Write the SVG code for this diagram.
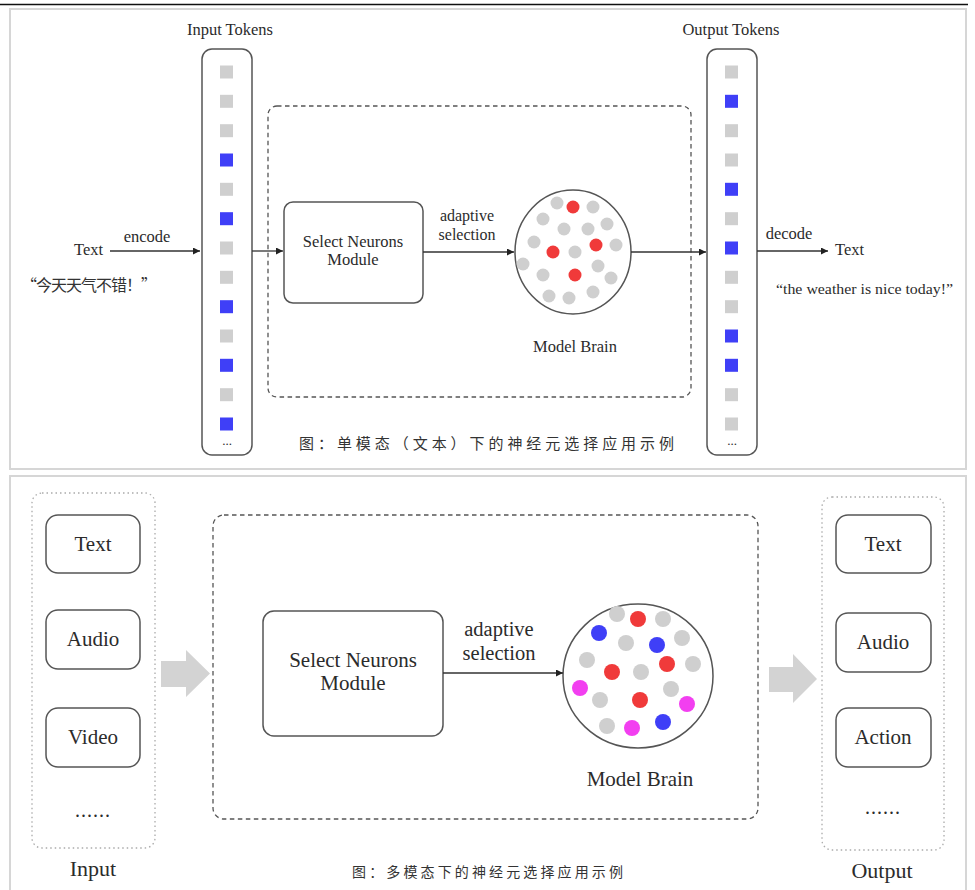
<svg xmlns="http://www.w3.org/2000/svg" width="975" height="890" viewBox="0 0 975 890">
<defs>
<style>
.frame{fill:#fff;stroke:#d6d6d6;stroke-width:2}
.col{fill:#fff;stroke:#555;stroke-width:1.5}
.box{fill:#fff;stroke:#555;stroke-width:1.5}
.dash{fill:none;stroke:#555;stroke-width:1.3;stroke-dasharray:4.5 3.5}
.dot{fill:none;stroke:#aaa;stroke-width:1.3;stroke-dasharray:1.5 3}
.brain{fill:#fff;stroke:#555;stroke-width:1.5}
.g{fill:#cfcfcf}
.b{fill:#3f3ff7}
.r{fill:#f03a3a}
.m{fill:#f23ff0}
.ser{font-family:"Liberation Serif","Times New Roman",serif;fill:#2b2b2b}
.cjk{font-family:"Noto Sans CJK SC","Noto Sans",sans-serif;fill:#333}
.conn{stroke:#333;stroke-width:1.3;fill:none}
.block{fill:#d3d3d3}
</style>
<marker id="ah" viewBox="0 0 10 10" refX="10" refY="5" markerWidth="8" markerHeight="7" markerUnits="userSpaceOnUse" orient="auto">
<path d="M0,0 L10,5 L0,10 z" fill="#222"/>
</marker>
</defs>
<rect width="975" height="890" fill="#fff"/>
<line x1="0" y1="4.5" x2="968" y2="4.5" stroke="#111" stroke-width="1.4"/>
<rect class="frame" x="10" y="9" width="956" height="460"/>
<rect class="frame" x="10" y="476" width="956" height="420"/>

<!-- ===== Top panel ===== -->
<g id="top-container">
<rect class="dash" x="268" y="106" width="423" height="291" rx="9"/>
</g>

<g id="input-tokens">
<text class="ser" x="230" y="35" font-size="16.5" text-anchor="middle">Input Tokens</text>
<rect class="col" x="202" y="49" width="50" height="406" rx="10"/>
<rect class="g" x="220" y="65.5" width="13" height="13"/>
<rect class="g" x="220" y="94.8" width="13" height="13"/>
<rect class="g" x="220" y="124.2" width="13" height="13"/>
<rect class="b" x="220" y="153.5" width="13" height="13"/>
<rect class="g" x="220" y="182.8" width="13" height="13"/>
<rect class="b" x="220" y="212.2" width="13" height="13"/>
<rect class="g" x="220" y="241.5" width="13" height="13"/>
<rect class="g" x="220" y="270.8" width="13" height="13"/>
<rect class="b" x="220" y="300.2" width="13" height="13"/>
<rect class="g" x="220" y="329.5" width="13" height="13"/>
<rect class="b" x="220" y="358.8" width="13" height="13"/>
<rect class="g" x="220" y="388.2" width="13" height="13"/>
<rect class="b" x="220" y="417.5" width="13" height="13"/>
<text class="ser" x="227" y="445" font-size="13" text-anchor="middle" fill="#555">...</text>
</g>

<g id="text-in">
<text class="ser" x="74" y="255" font-size="16.5">Text</text>
<text class="cjk" x="21" y="291" font-size="16" textLength="136" lengthAdjust="spacing" fill="#444">“今天天气不错！”</text>
</g>

<g id="select-top">
<rect class="box" x="284" y="202" width="139" height="101" rx="9"/>
<text class="ser" x="353" y="247" font-size="16.5" text-anchor="middle">Select Neurons</text>
<text class="ser" x="353" y="265" font-size="16.5" text-anchor="middle">Module</text>
</g>

<g id="brain-top">
<ellipse class="brain" cx="573" cy="252" rx="58" ry="62"/>
<circle class="g" cx="557" cy="203" r="6.5"/>
<circle class="r" cx="573" cy="207" r="6.5"/>
<circle class="g" cx="593" cy="207" r="6.5"/>
<circle class="g" cx="543" cy="219" r="6.5"/>
<circle class="g" cx="564" cy="229" r="6.5"/>
<circle class="g" cx="588" cy="229" r="6.5"/>
<circle class="g" cx="607" cy="224" r="6.5"/>
<circle class="g" cx="534" cy="242" r="6.5"/>
<circle class="r" cx="553" cy="252" r="6.5"/>
<circle class="g" cx="575" cy="252" r="6.5"/>
<circle class="r" cx="596" cy="245" r="6.5"/>
<circle class="g" cx="616" cy="245" r="6.5"/>
<circle class="g" cx="523" cy="264" r="6.5"/>
<circle class="g" cx="543" cy="275" r="6.5"/>
<circle class="r" cx="575" cy="275" r="6.5"/>
<circle class="g" cx="598" cy="266" r="6.5"/>
<circle class="g" cx="611" cy="278" r="6.5"/>
<circle class="g" cx="549" cy="296" r="6.5"/>
<circle class="g" cx="569" cy="298" r="6.5"/>
<circle class="g" cx="593" cy="292" r="6.5"/>
<text class="ser" x="575" y="352" font-size="16.5" text-anchor="middle">Model Brain</text>
</g>

<g id="output-tokens">
<text class="ser" x="731" y="35" font-size="16.5" text-anchor="middle">Output Tokens</text>
<rect class="col" x="707" y="49" width="50" height="406" rx="10"/>
<rect class="g" x="725" y="65.5" width="13" height="13"/>
<rect class="b" x="725" y="94.8" width="13" height="13"/>
<rect class="g" x="725" y="124.2" width="13" height="13"/>
<rect class="g" x="725" y="153.5" width="13" height="13"/>
<rect class="b" x="725" y="182.8" width="13" height="13"/>
<rect class="g" x="725" y="212.2" width="13" height="13"/>
<rect class="b" x="725" y="241.5" width="13" height="13"/>
<rect class="g" x="725" y="270.8" width="13" height="13"/>
<rect class="g" x="725" y="300.2" width="13" height="13"/>
<rect class="b" x="725" y="329.5" width="13" height="13"/>
<rect class="b" x="725" y="358.8" width="13" height="13"/>
<rect class="g" x="725" y="388.2" width="13" height="13"/>
<rect class="g" x="725" y="417.5" width="13" height="13"/>
<text class="ser" x="732" y="445" font-size="13" text-anchor="middle" fill="#555">...</text>
</g>

<g id="text-out">
<text class="ser" x="835" y="255" font-size="16.5">Text</text>
<text class="ser" x="776" y="294" font-size="15.5" textLength="177" lengthAdjust="spacingAndGlyphs">“the weather is nice today!”</text>
</g>

<g id="caption-top">
<text class="cjk" x="299" y="448.5" font-size="15" textLength="375" lengthAdjust="spacing">图：单模态（文本）下的神经元选择应用示例</text>
</g>

<!-- ===== Bottom panel ===== -->
<g id="input-group">
<rect class="dot" x="32" y="493" width="123" height="355" rx="10"/>
<rect class="box" x="46" y="515" width="94" height="58" rx="12"/>
<text class="ser" x="93" y="551" font-size="21" text-anchor="middle">Text</text>
<rect class="box" x="46" y="610" width="94" height="59" rx="12"/>
<text class="ser" x="93" y="646" font-size="21" text-anchor="middle">Audio</text>
<rect class="box" x="46" y="708" width="94" height="59" rx="12"/>
<text class="ser" x="93" y="744" font-size="21" text-anchor="middle">Video</text>
<text class="ser" x="93" y="817" font-size="20" text-anchor="middle" letter-spacing="1">......</text>
<text class="ser" x="93" y="876" font-size="22" text-anchor="middle">Input</text>
</g>

<g id="bottom-container">
<rect class="dash" x="213" y="515" width="545" height="304" rx="11"/>
</g>

<g id="select-bottom">
<rect class="box" x="263" y="611" width="180" height="125" rx="11"/>
<text class="ser" x="353" y="667" font-size="21" text-anchor="middle">Select Neurons</text>
<text class="ser" x="353" y="690" font-size="21" text-anchor="middle">Module</text>
</g>

<g id="brain-bottom">
<ellipse class="brain" cx="638" cy="676" rx="75" ry="72"/>
<circle class="g" cx="617" cy="614" r="8"/>
<circle class="r" cx="638" cy="619" r="8"/>
<circle class="g" cx="663" cy="619" r="8"/>
<circle class="b" cx="599" cy="633" r="8"/>
<circle class="g" cx="626" cy="643" r="8"/>
<circle class="b" cx="657" cy="645" r="8"/>
<circle class="g" cx="682" cy="638" r="8"/>
<circle class="g" cx="587" cy="660" r="8"/>
<circle class="r" cx="667" cy="664" r="8"/>
<circle class="g" cx="693" cy="664" r="8"/>
<circle class="r" cx="612" cy="672" r="8"/>
<circle class="g" cx="641" cy="672" r="8"/>
<circle class="m" cx="580" cy="688" r="8"/>
<circle class="g" cx="671" cy="689" r="8"/>
<circle class="g" cx="600" cy="700" r="8"/>
<circle class="r" cx="640" cy="700" r="8"/>
<circle class="m" cx="687" cy="704" r="8"/>
<circle class="g" cx="607" cy="726" r="8"/>
<circle class="m" cx="632" cy="728" r="8"/>
<circle class="b" cx="663" cy="722" r="8"/>
<text class="ser" x="640" y="786" font-size="21" text-anchor="middle">Model Brain</text>
</g>

<g id="output-group">
<rect class="dot" x="822" y="497" width="122" height="353" rx="10"/>
<rect class="box" x="836" y="515" width="95" height="58" rx="12"/>
<text class="ser" x="883" y="551" font-size="21" text-anchor="middle">Text</text>
<rect class="box" x="836" y="613" width="95" height="59" rx="12"/>
<text class="ser" x="883" y="649" font-size="21" text-anchor="middle">Audio</text>
<rect class="box" x="836" y="708" width="95" height="59" rx="12"/>
<text class="ser" x="883" y="744" font-size="21" text-anchor="middle">Action</text>
<text class="ser" x="883" y="814" font-size="20" text-anchor="middle" letter-spacing="1">......</text>
<text class="ser" x="882" y="878" font-size="22" text-anchor="middle">Output</text>
</g>

<g id="caption-bottom">
<text class="cjk" x="352" y="877" font-size="14" textLength="271" lengthAdjust="spacing">图：多模态下的神经元选择应用示例</text>
</g>

<!-- ===== Connectors ===== -->
<g id="connectors">
<line class="conn" x1="110" y1="251" x2="200" y2="251" marker-end="url(#ah)"/>
<text class="ser" x="147" y="242" font-size="16.5" text-anchor="middle">encode</text>
<line class="conn" x1="252" y1="251" x2="283" y2="251" marker-end="url(#ah)"/>
<line class="conn" x1="423" y1="252" x2="514" y2="252" marker-end="url(#ah)"/>
<text class="ser" x="467" y="221" font-size="16" text-anchor="middle">adaptive</text>
<text class="ser" x="467" y="240" font-size="16" text-anchor="middle">selection</text>
<line class="conn" x1="631" y1="252" x2="706" y2="252" marker-end="url(#ah)"/>
<line class="conn" x1="757" y1="251" x2="828" y2="251" marker-end="url(#ah)"/>
<text class="ser" x="789" y="239" font-size="16.5" text-anchor="middle">decode</text>
<polygon class="block" points="161,661 186,661 186,650 210,673.5 186,697 186,687 161,687"/>
<line class="conn" x1="443" y1="673" x2="563" y2="673" marker-end="url(#ah)"/>
<text class="ser" x="499" y="636" font-size="20.5" text-anchor="middle">adaptive</text>
<text class="ser" x="499" y="660" font-size="20.5" text-anchor="middle">selection</text>
<polygon class="block" points="769,667 793,667 793,654 817,679 793,703 793,692 769,692"/>
</g>
</svg>
